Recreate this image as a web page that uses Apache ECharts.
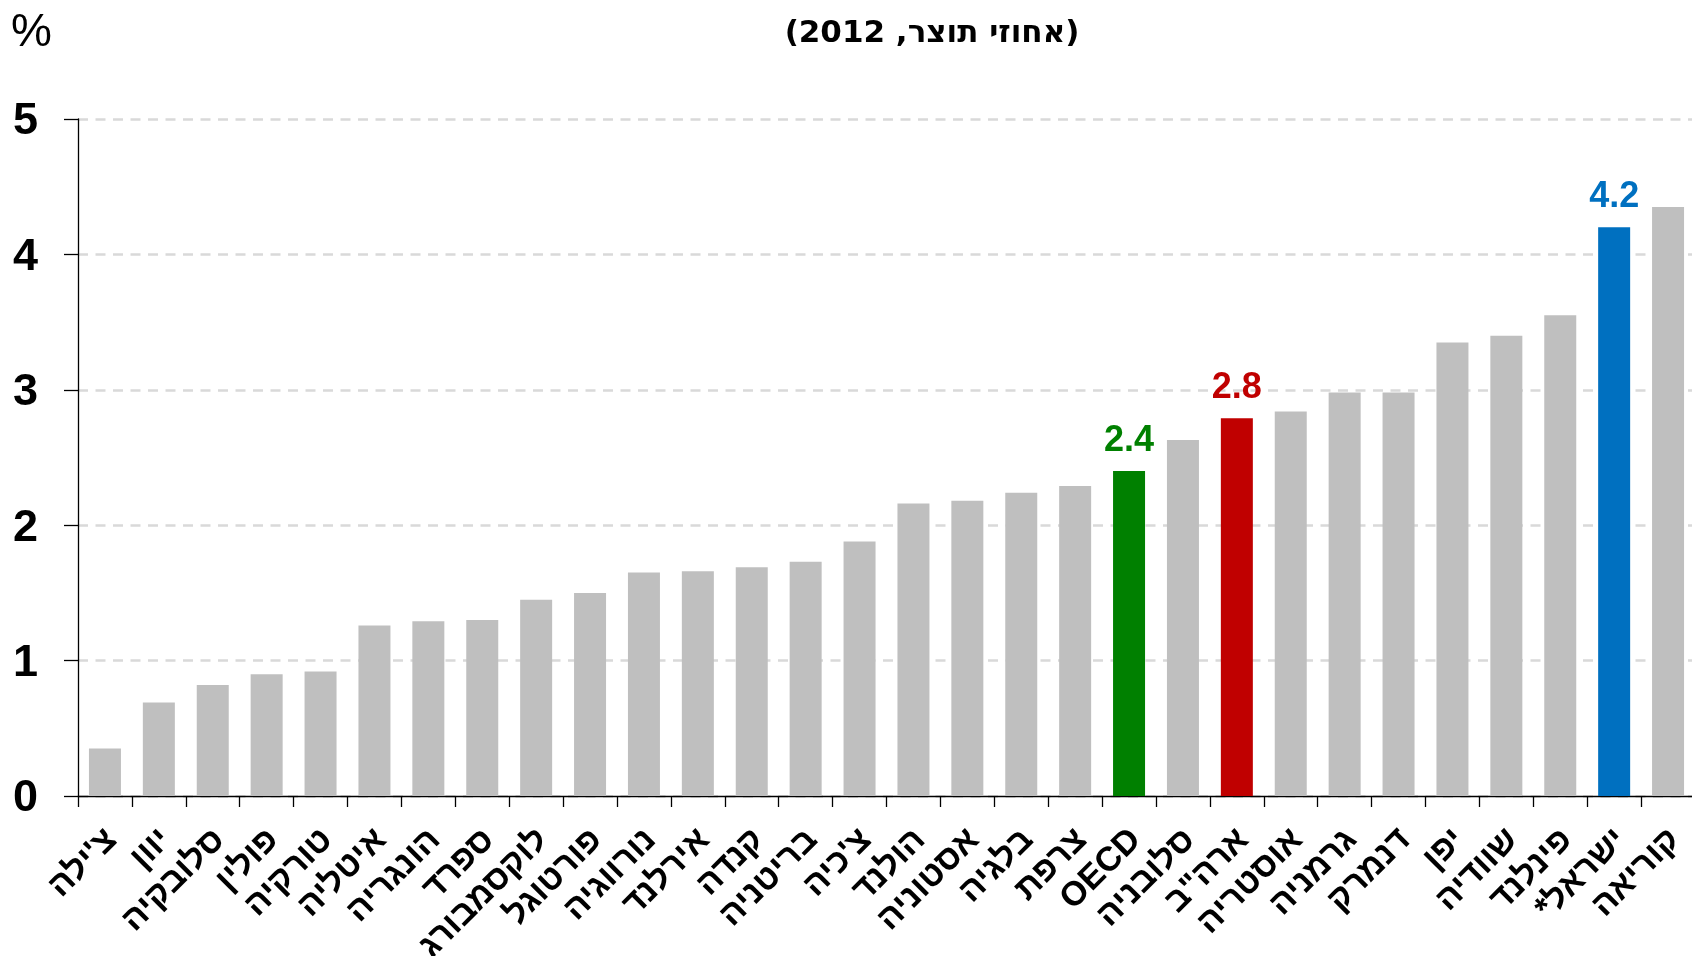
<!DOCTYPE html>
<html lang="he">
<head>
<meta charset="utf-8">
<script src="https://cdn.jsdelivr.net/npm/echarts@6/dist/echarts.min.js"></script>
<style>
html, body { margin: 0; padding: 0; background: #fff; overflow: hidden; }
#chart { width: 1692px; height: 956px; direction: rtl; }
</style>
</head>
<body>
<div id="chart"></div>
<script>
const categories = ["צ'ילה", "יוון", "סלובקיה", "פולין", "טורקיה", "איטליה", "הונגריה", "ספרד", "לוקסמבורג", "פורטוגל",
  "נורווגיה", "אירלנד", "קנדה", "בריטניה", "צ'כיה", "הולנד", "אסטוניה", "בלגיה", "צרפת", "OECD",
  "סלובניה", 'ארה"ב', "אוסטריה", "גרמניה", "דנמרק", "יפן", "שוודיה", "פינלנד", "ישראל*", "קוריאה"];
const values = [0.35, 0.69, 0.82, 0.90, 0.92, 1.26, 1.29, 1.30, 1.45, 1.50,
  1.65, 1.66, 1.69, 1.73, 1.88, 2.16, 2.18, 2.24, 2.29, 2.40,
  2.63, 2.79, 2.84, 2.98, 2.98, 3.35, 3.40, 3.55, 4.20, 4.35];
const highlighted = { "OECD": "#008000", 'ארה"ב': "#C00000", "ישראל*": "#0070C0" };
const yTicks = [0, 1, 2, 3, 4, 5];
const titleText = "(אחוזי תוצר, 2012)";
const unitText = "%";

const baseColor = "#BFBFBF";
const FONT = "'Liberation Sans', Arial, 'DejaVu Sans', sans-serif";

const seriesData = values.map((v, i) => {
  const c = highlighted[categories[i]];
  const item = { value: v, itemStyle: { color: c || baseColor } };
  if (c) {
    item.label = {
      show: true, position: 'top', distance: 12,
      formatter: (p) => p.value.toFixed(1),
      color: c, fontSize: 36, fontWeight: 'bold', fontFamily: FONT
    };
  }
  return item;
});

const chart = echarts.init(document.getElementById('chart'), null, { renderer: 'canvas' });
chart.setOption({
  backgroundColor: '#ffffff',
  animation: false,
  grid: { left: 78, top: 119, right: -3, bottom: 160, containLabel: false, outerBoundsMode: 'none' },
  graphic: [
    { type: 'text', x: 932, y: 34, style: { text: titleText, fontSize: 31, fontWeight: 'bold', fontFamily: "'DejaVu Sans', sans-serif", fill: '#000', align: 'center', verticalAlign: 'middle' } },
    { type: 'text', x: 11, y: 33, style: { text: unitText, fontSize: 46, fontWeight: 'normal', fontFamily: FONT, fill: '#000', align: 'left', verticalAlign: 'middle' } }
  ],
  xAxis: {
    type: 'category',
    data: categories,
    boundaryGap: true,
    axisLine: { show: true, lineStyle: { color: '#000', width: 1.3 } },
    axisTick: { show: true, interval: 0, length: 11, lineStyle: { color: '#000', width: 1.3 } },
    axisLabel: {
      interval: 0, rotate: 45, margin: 32, verticalAlign: 'top', lineHeight: 19,
      fontSize: 34, fontWeight: 'bold', fontFamily: FONT, color: '#000', hideOverlap: false
    },
    splitLine: { show: false }
  },
  yAxis: {
    type: 'value', min: yTicks[0], max: yTicks[yTicks.length - 1], interval: 1,
    axisLine: { show: true, lineStyle: { color: '#000', width: 1.3 } },
    axisTick: { show: true, length: 14, lineStyle: { color: '#000', width: 1.3 } },
    axisLabel: { margin: 40, fontSize: 45, fontWeight: 'bold', fontFamily: FONT, color: '#000', verticalAlign: 'top', lineHeight: 6 },
    splitLine: { show: true, lineStyle: { color: '#D9D9D9', width: 2.5, type: [10, 7.5] } }
  },
  series: [{
    type: 'bar',
    data: seriesData,
    barWidth: 32,
    label: { show: false }
  }]
});
</script>
</body>
</html>
